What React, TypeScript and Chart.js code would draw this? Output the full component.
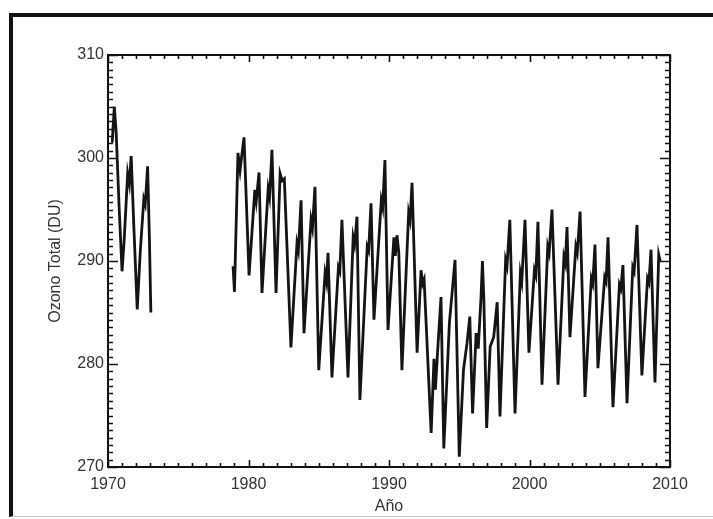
import React, { useEffect, useRef } from "react";
import { Chart, registerables } from "chart.js";

Chart.register(...registerables);

// Segment 1: 1970–1973
const YEARS_A = [
  1970.3, 1970.45, 1970.58, 1970.8, 1971.0, 1971.15, 1971.4, 1971.52, 1971.65, 1971.85,
  1972.08, 1972.3, 1972.55, 1972.65, 1972.82, 1972.95, 1973.05,
];
const OZONE_A = [
  301.5, 305.0, 302.5, 295.0, 289.0, 292.0, 298.5, 297.5, 300.2, 293.0,
  285.3, 291.0, 296.0, 295.5, 299.2, 292.0, 285.0,
];

// Segment 2: 1979–2009
const YEARS_B = [
  1978.9, 1979.0, 1979.25, 1979.4, 1979.5, 1979.68,
  1980.04, 1980.45, 1980.55, 1980.75,
  1980.96, 1981.4, 1981.5, 1981.67,
  1981.96, 1982.25, 1982.4, 1982.55,
  1983.02, 1983.45, 1983.55, 1983.74,
  1983.95, 1984.45, 1984.55, 1984.73,
  1985.0, 1985.45, 1985.55, 1985.66,
  1985.94, 1986.4, 1986.5, 1986.65,
  1987.08, 1987.45, 1987.55, 1987.72,
  1987.93, 1988.45, 1988.55, 1988.72,
  1988.93, 1989.45, 1989.55, 1989.71,
  1989.93, 1990.35, 1990.45, 1990.57, 1990.7,
  1990.92, 1991.4, 1991.5, 1991.64,
  1992.0, 1992.28, 1992.4, 1992.5,
  1993.0, 1993.2, 1993.3, 1993.45, 1993.7,
  1993.9, 1994.3, 1994.7,
  1995.0, 1995.3, 1995.55, 1995.75,
  1995.95, 1996.2, 1996.35, 1996.55, 1996.65, 1996.75,
  1996.95, 1997.2, 1997.45, 1997.7,
  1997.9, 1998.3, 1998.4, 1998.6,
  1998.97, 1999.35, 1999.45, 1999.68,
  1999.96, 2000.35, 2000.45, 2000.6,
  2000.89, 2001.3, 2001.4, 2001.6,
  2002.03, 2002.45, 2002.55, 2002.67,
  2002.88, 2003.3, 2003.4, 2003.6,
  2003.95, 2004.4, 2004.5, 2004.66,
  2004.87, 2005.35, 2005.45, 2005.59,
  2005.94, 2006.4, 2006.5, 2006.65,
  2006.94, 2007.35, 2007.45, 2007.65,
  2008.0, 2008.4, 2008.5, 2008.65,
  2008.93, 2009.2, 2009.3,
];
const OZONE_B = [
  289.5, 287.0, 300.5, 298.8, 300.0, 302.0,
  288.6, 296.9, 295.8, 298.6,
  286.9, 297.0, 296.2, 300.8,
  286.9, 298.5, 297.8, 298.0,
  281.6, 291.7, 291.0, 295.9,
  283.0, 294.0, 293.2, 297.2,
  279.4, 288.8, 288.0, 290.8,
  278.7, 289.4, 289.0, 294.0,
  278.7, 292.3, 291.6, 294.3,
  276.5, 291.4, 291.0, 295.6,
  284.3, 295.9, 295.2, 299.8,
  283.3, 292.3, 290.5, 292.5, 290.8,
  279.4, 294.7, 294.0, 297.6,
  281.1, 289.1, 287.8, 288.2,
  273.3, 280.5, 277.5, 281.0, 286.5,
  271.8, 284.0, 290.1,
  271.0, 279.4, 282.0, 284.6,
  275.2, 283.0, 281.5, 286.5, 290.0, 286.3,
  273.8, 281.7, 282.6, 286.0,
  274.9, 290.1, 289.5, 294.0,
  275.2, 288.8, 288.0, 294.0,
  281.1, 289.1, 288.6, 293.8,
  278.0, 291.4, 290.8, 295.0,
  278.0, 290.4, 289.8, 293.3,
  282.6, 291.4, 290.8, 294.8,
  276.8, 288.3, 287.8, 291.6,
  279.6, 288.4, 288.0, 292.3,
  275.8, 287.7, 287.3, 289.6,
  276.2, 289.4, 289.0, 293.5,
  278.9, 288.3, 287.9, 291.1,
  278.2, 290.6, 290.0,
];
const GAP_YEAR = 1976;

const X_MIN = 1970;
const X_MAX = 2010;
const X_MAJOR = 10;
const X_MINOR = 1;
const Y_MIN = 270;
const Y_MAX = 310;
const Y_MAJOR = 10;
const Y_MINOR_DIV = 14;

const X_TITLE = "Año";
const Y_TITLE = "Ozono Total (DU)";

const FONT = "'Liberation Sans', Arial, Helvetica, sans-serif";
const TEXT = "#333";

const frameTicks = {
  id: "frameTicks",
  afterDraw(chart: any) {
    const { ctx, chartArea: a, scales } = chart;
    const xs = scales.x;
    const ys = scales.y;
    ctx.save();
    ctx.strokeStyle = "#111";
    ctx.lineWidth = 2;
    ctx.strokeRect(a.left, a.top, a.right - a.left, a.bottom - a.top);
    ctx.lineWidth = 1.6;
    ctx.beginPath();
    for (let v = X_MIN; v <= X_MAX + 1e-6; v += X_MINOR) {
      const px = Math.round(xs.getPixelForValue(v)) + 0.5;
      const len = Math.abs(v % X_MAJOR) < 1e-6 ? 7 : 4;
      ctx.moveTo(px, a.bottom);
      ctx.lineTo(px, a.bottom - len);
      ctx.moveTo(px, a.top);
      ctx.lineTo(px, a.top + len);
    }
    const step = Y_MAJOR / Y_MINOR_DIV;
    for (let i = 0; i <= ((Y_MAX - Y_MIN) / Y_MAJOR) * Y_MINOR_DIV; i++) {
      const v = Y_MIN + i * step;
      const py = Math.round(ys.getPixelForValue(v)) + 0.5;
      const len = i % Y_MINOR_DIV === 0 ? 10 : 5;
      ctx.moveTo(a.left, py);
      ctx.lineTo(a.left + len, py);
      ctx.moveTo(a.right, py);
      ctx.lineTo(a.right - len, py);
    }
    ctx.stroke();
    ctx.restore();
  },
};

export default function App() {
  const ref = useRef<HTMLCanvasElement | null>(null);

  useEffect(() => {
    if (!ref.current) return;
    const points: { x: number; y: number | null }[] = [];
    YEARS_A.forEach((x, i) => points.push({ x, y: OZONE_A[i] }));
    points.push({ x: GAP_YEAR, y: null });
    YEARS_B.forEach((x, i) => points.push({ x, y: OZONE_B[i] }));

    const chart = new Chart(ref.current, {
      type: "line",
      data: {
        datasets: [
          {
            data: points as any,
            borderColor: "#141414",
            borderWidth: 2.8,
            pointRadius: 0,
            tension: 0,
            spanGaps: false,
            fill: false,
          },
        ],
      },
      options: {
        animation: false,
        responsive: false,
        maintainAspectRatio: false,
        layout: { padding: { top: 55, right: 43, left: 0, bottom: 0 } },
        plugins: { legend: { display: false }, tooltip: { enabled: false } },
        scales: {
          x: {
            type: "linear",
            min: X_MIN,
            max: X_MAX,
            grid: { display: false, drawTicks: false },
            border: { display: false },
            ticks: {
              stepSize: X_MAJOR,
              padding: 8,
              color: TEXT,
              font: { family: FONT, size: 16 },
              callback: (v: any) => String(v),
              maxRotation: 0,
            },
            title: {
              display: true,
              text: X_TITLE,
              color: TEXT,
              font: { family: FONT, size: 16 },
              padding: { top: 0, bottom: 3 },
            },
            afterFit: (s: any) => {
              s.height = 52;
            },
          },
          y: {
            type: "linear",
            min: Y_MIN,
            max: Y_MAX,
            grid: { display: false, drawTicks: false },
            border: { display: false },
            ticks: {
              stepSize: Y_MAJOR,
              padding: 4,
              color: TEXT,
              font: { family: FONT, size: 16 },
            },
            title: {
              display: true,
              text: Y_TITLE,
              color: TEXT,
              font: { family: FONT, size: 16 },
              padding: { top: 46, bottom: 0 },
            },
            afterFit: (s: any) => {
              s.width = 108;
            },
          },
        },
      },
      plugins: [frameTicks],
    });
    return () => chart.destroy();
  }, []);

  return (
    <div
      style={{
        position: "fixed",
        left: 0,
        top: 0,
        width: 713,
        height: 519,
        overflow: "hidden",
        background: "#fff",
      }}
    >
      <div
        style={{
          position: "absolute",
          left: 9,
          top: 13,
          width: 720,
          height: 499,
          borderLeft: "4px solid #111",
          borderTop: "4px solid #111",
          borderBottom: "1px solid #c8c8c8",
        }}
      />
      <canvas
        ref={ref}
        width={713}
        height={519}
        style={{ position: "absolute", left: 0, top: 0, width: 713, height: 519 }}
      />
    </div>
  );
}
